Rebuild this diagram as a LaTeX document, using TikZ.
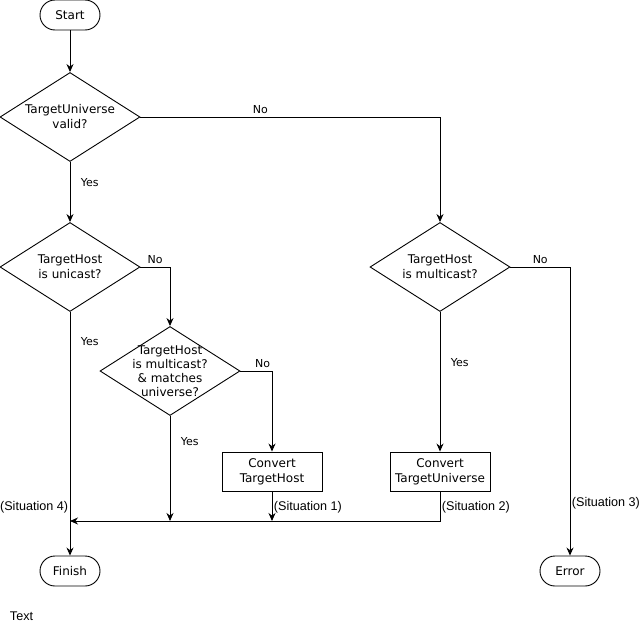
\documentclass[tikz,border=0pt]{standalone}
\usepackage{fontspec}
\setmainfont{DejaVu Sans}
\newfontfamily\notefont{Liberation Sans}
\usetikzlibrary{shapes.geometric}
\usetikzlibrary{arrows.meta}

\begin{document}
\begin{tikzpicture}[x=1pt, y=-1pt, line width=0.9pt,
        font=\fontsize{12}{15}\selectfont,
        terminal/.style={draw, rounded corners=15pt, minimum width=60pt, minimum height=30pt},
        decision/.style={draw, diamond, aspect=1.57, minimum width=140pt, minimum height=89pt, inner sep=0pt, align=center},
        process/.style={draw, rectangle, minimum width=100pt, minimum height=39pt, inner sep=0pt, align=center},
        flow/.style={-{Stealth[length=8pt, width=7pt]}},
        yn/.style={font=\fontsize{11}{13}\selectfont},
        situ/.style={font=\notefont\fontsize{12.6}{14}\selectfont, inner sep=1.5pt}]
            \useasboundingbox (0,0) rectangle (639,627);

            % Start / end points
            \node[terminal] (start) at (70,15) {Start};
            \node[terminal] (finish) at (70,571) {Finish};
            \node[terminal] (error) at (570,571) {Error};

            % Decisions
            \node[decision] (valid) at (70,117) {TargetUniverse\\valid?};
            \node[decision] (unicast) at (70,267) {TargetHost\\is unicast?};
            \node[decision, label={[align=center, font=\fontsize{12}{14}\selectfont]center:TargetHost\\is multicast?\\\& matches\\universe?}] (matches) at (170,371) {};
            \node[decision] (multicast) at (440,267) {TargetHost\\is multicast?};

            % Conversions
            \node[process] (convhost) at (272,471.5) {Convert\\TargetHost};
            \node[process] (convuni) at (440,471.5) {Convert\\TargetUniverse};

            % Points on the merge line
            \coordinate (join) at (70,521);
            \coordinate (joinyes) at (170,521);
            \coordinate (joinhost) at (272,521);

            % Connectors
            \draw[flow] (start) -- (valid);
            \draw[flow] (valid.east) -| node[yn, pos=0.2, above] {No} (multicast.north);
            \draw[flow] (valid) -- node[yn, pos=0.35, right=7pt] {Yes} (unicast);
            \draw[flow] (unicast.east) -| node[yn, pos=0.25, above] {No} (matches.north);
            \draw[flow] (unicast) -- node[yn, pos=0.12, right=7pt] {Yes}
                node[situ, pos=0.8, left] {(Situation 4)} (finish);
            \draw[flow] (matches.east) -| node[yn, pos=0.35, above] {No} (convhost.north);
            \draw[flow] (matches) -- node[yn, pos=0.24, right=7pt] {Yes} (joinyes);
            \draw[flow] (convhost) -- node[situ, pos=0.53, right] {(Situation 1)} (joinhost);
            \draw[flow] (multicast) -- node[yn, pos=0.36, right=7pt] {Yes} (convuni);
            \draw[flow] (multicast.east) -| node[yn, pos=0.25, above] {No}
                node[situ, pos=0.91, right] {(Situation 3)} (error.north);
            \draw[flow] (convuni.south) |- node[situ, pos=0.27, right] {(Situation 2)} (join);

            % Loose note
            \node[situ, anchor=west] (note) at (8,616) {Text};

        \end{tikzpicture}
\end{document}
